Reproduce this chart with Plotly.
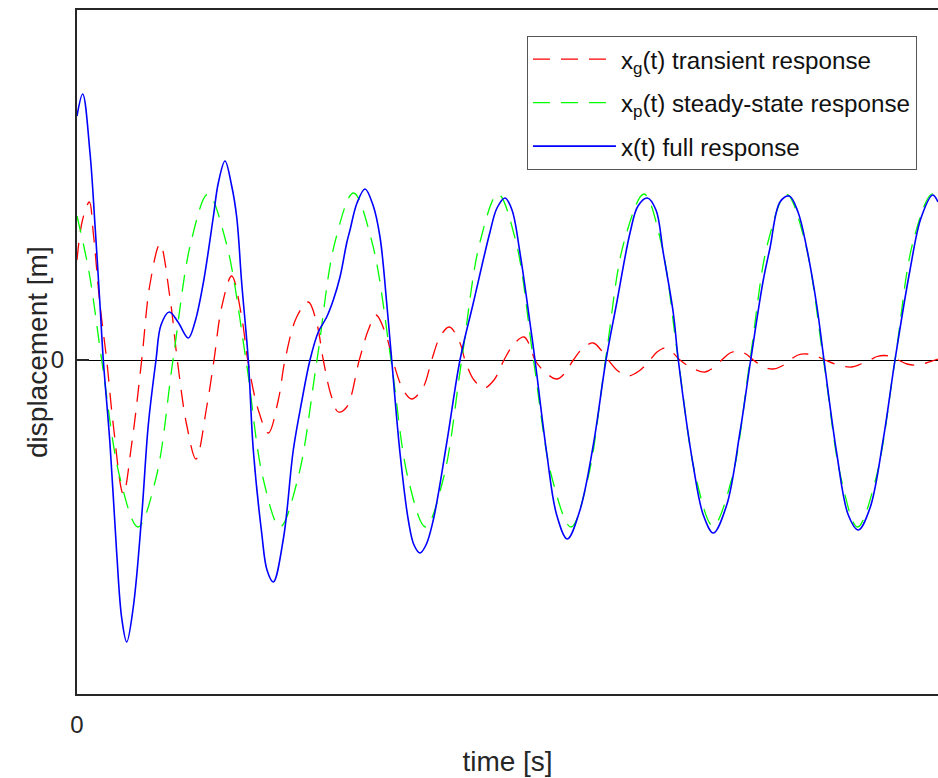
import plotly.graph_objects as go

# transient response x_g(t)
t_g = [0.000, 0.055, 0.123, 0.163, 0.230, 0.297, 0.363, 0.463, 0.547, 0.647,
       0.730, 0.830, 0.930, 1.003, 1.097, 1.190, 1.297, 1.370, 1.447, 1.547,
       1.647, 1.707, 1.813, 1.913, 2.013, 2.080, 2.197, 2.313, 2.397, 2.463,
       2.540, 2.613, 2.697, 2.823, 2.913, 2.990, 3.097, 3.157, 3.263, 3.347,
       3.463, 3.547, 3.630, 3.723, 3.830, 3.880, 3.970, 4.070, 4.170, 4.270,
       4.370, 4.470, 4.530, 4.580, 4.680, 4.797, 4.880, 4.963, 5.060, 5.163,
       5.240, 5.313, 5.410, 5.510, 5.620, 5.730, 5.800, 5.880, 5.950, 6.030,
       6.150, 6.280, 6.360, 6.447, 6.530, 6.613, 6.690, 6.763, 6.870, 6.963,
       7.050, 7.130, 7.210, 7.297, 7.390, 7.480, 7.610, 7.747, 7.840, 7.930,
       8.000, 8.080, 8.150, 8.213, 8.300, 8.397, 8.490, 8.580, 8.610]
x_g = [1.00, 1.40, 1.58, 1.27, 0.55, 0.00, -0.65, -1.34, -0.84, 0.00,
       0.76, 1.16, 0.62, 0.00, -0.65, -0.99, -0.47, 0.00, 0.53, 0.84,
       0.43, 0.00, -0.50, -0.73, -0.40, 0.00, 0.43, 0.58, 0.37, 0.00,
       -0.35, -0.52, -0.47, 0.00, 0.30, 0.45, 0.23, 0.00, -0.30, -0.39,
       -0.27, 0.00, 0.23, 0.33, 0.17, 0.00, -0.20, -0.28, -0.20, 0.00,
       0.16, 0.23, 0.14, 0.00, -0.12, -0.19, -0.13, 0.00, 0.12, 0.17,
       0.10, 0.00, -0.11, -0.16, -0.11, 0.00, 0.08, 0.12, 0.08, 0.00,
       -0.08, -0.12, -0.08, 0.00, 0.07, 0.09, 0.06, 0.00, -0.07, -0.09,
       -0.06, 0.00, 0.05, 0.06, 0.04, 0.00, -0.05, -0.07, -0.04, 0.00,
       0.035, 0.045, 0.03, 0.00, -0.04, -0.05, -0.03, 0.00, 0.01]

# steady-state response x_p(t)
t_p = [0.000, 0.120, 0.247, 0.430, 0.610, 0.790, 0.960, 1.140, 1.310, 1.490,
       1.690, 1.860, 2.030, 2.210, 2.400, 2.580, 2.765, 2.950, 3.140, 3.310,
       3.485, 3.665, 3.847, 4.030, 4.210, 4.390, 4.565, 4.750, 4.940, 5.110,
       5.285, 5.470, 5.670, 5.840, 6.013, 6.190, 6.360, 6.550, 6.730, 6.910,
       7.095, 7.280, 7.465, 7.640, 7.805, 7.990, 8.180, 8.360, 8.547, 8.610]
x_p = [1.44, 0.88, 0.00, -1.18, -1.67, -1.18, 0.00, 1.18, 1.66, 1.18,
       0.00, -1.18, -1.67, -1.18, 0.00, 1.18, 1.67, 1.18, 0.00, -1.18,
       -1.67, -1.18, 0.00, 1.18, 1.66, 1.18, 0.00, -1.18, -1.67, -1.18,
       0.00, 1.18, 1.66, 1.18, 0.00, -1.18, -1.66, -1.18, 0.00, 1.18,
       1.66, 1.18, 0.00, -1.18, -1.67, -1.18, 0.00, 1.18, 1.66, 1.62]

# full response x(t)
t_x = [0.000, 0.057, 0.130, 0.180, 0.230, 0.263, 0.330, 0.397, 0.447, 0.497,
       0.563, 0.647, 0.713, 0.790, 0.840, 0.923, 1.010, 1.113, 1.180, 1.263,
       1.363, 1.413, 1.480, 1.545, 1.597, 1.647, 1.713, 1.763, 1.847, 1.900,
       1.963, 2.065, 2.163, 2.250, 2.330, 2.413, 2.497, 2.563, 2.630, 2.697,
       2.730, 2.800, 2.880, 2.960, 3.030, 3.097, 3.147, 3.230, 3.313, 3.370,
       3.430, 3.490, 3.563, 3.697, 3.830, 3.963, 4.130, 4.200, 4.280, 4.350,
       4.430, 4.530, 4.580, 4.697, 4.797, 4.903, 5.030, 5.163, 5.290, 5.397,
       5.530, 5.610, 5.703, 5.790, 5.863, 5.963, 6.013, 6.163, 6.263, 6.363,
       6.497, 6.630, 6.737, 6.863, 6.930, 7.030, 7.123, 7.210, 7.297, 7.397,
       7.470, 7.597, 7.713, 7.813, 7.930, 8.063, 8.180, 8.330, 8.440, 8.557,
       8.610]
x_x = [2.44, 2.66, 2.07, 1.35, 0.55, 0.00, -0.84, -1.93, -2.58, -2.82,
       -2.47, -1.56, -0.65, 0.00, 0.35, 0.48, 0.38, 0.22, 0.38, 0.77,
       1.43, 1.77, 1.99, 1.75, 1.43, 0.77, 0.00, -0.90, -1.73, -2.10,
       -2.22, -1.78, -0.90, -0.40, 0.00, 0.28, 0.43, 0.60, 0.83, 1.17,
       1.30, 1.57, 1.71, 1.55, 1.23, 0.57, 0.00, -0.93, -1.60, -1.85,
       -1.93, -1.85, -1.60, -0.83, 0.00, 0.57, 1.28, 1.52, 1.62, 1.50,
       1.07, 0.37, 0.00, -0.93, -1.55, -1.79, -1.50, -0.85, 0.00, 0.57,
       1.27, 1.54, 1.62, 1.50, 1.07, 0.47, 0.00, -1.06, -1.55, -1.73,
       -1.45, -0.72, 0.00, 0.80, 1.12, 1.58, 1.64, 1.48, 1.12, 0.55,
       0.00, -0.93, -1.55, -1.70, -1.48, -0.79, 0.00, 0.90, 1.42, 1.65,
       1.58]

AXIS_COLOR = "#262626"
FONT = "Liberation Sans, Arial, sans-serif"
DASH = "17px,11px"

fig = go.Figure()
fig.add_trace(go.Scatter(
    x=t_g, y=x_g, mode="lines", name="x<sub>g</sub>(t) transient response",
    legendgroup="g",
    line=dict(color="#ff0000", width=1.3, dash=DASH, shape="spline", smoothing=1.0),
))
fig.add_trace(go.Scatter(
    x=t_p, y=x_p, mode="lines", name="x<sub>p</sub>(t) steady-state response",
    legendgroup="p",
    line=dict(color="#00ff00", width=1.3, dash=DASH, shape="spline", smoothing=1.0),
))
fig.add_trace(go.Scatter(
    x=t_x, y=x_x, mode="lines", name="x(t) full response",
    legendgroup="x",
    line=dict(color="#0000ff", width=1.6, shape="spline", smoothing=1.0),
))

fig.update_layout(
    width=938, height=778,
    margin=dict(l=77, r=0, t=10, b=84),
    plot_bgcolor="white", paper_bgcolor="white",
    font=dict(family=FONT, color=AXIS_COLOR),
    showlegend=True,
    legend=dict(
        x=0.5226, y=0.962, xanchor="left", yanchor="top",
        bgcolor="white", bordercolor="#555555", borderwidth=1,
        font=dict(size=24.2, color="#111111", family=FONT),
        tracegroupgap=9, itemwidth=83,
    ),
    annotations=[dict(
        text="displacement [m]", textangle=-90,
        xref="paper", yref="paper", x=-0.0465, y=0.5,
        xanchor="center", yanchor="middle", showarrow=False,
        font=dict(size=28, color=AXIS_COLOR, family=FONT),
    )],
)
fig.update_xaxes(
    range=[0, 8.61], showgrid=False, zeroline=False,
    showline=True, linecolor=AXIS_COLOR, linewidth=2, mirror=True,
    tickvals=[0], ticktext=["0"], ticks="inside", ticklen=12, tickwidth=2,
    tickcolor=AXIS_COLOR, tickfont=dict(size=24, color=AXIS_COLOR),
    ticklabelstandoff=8,
    title=dict(text="time [s]", font=dict(size=28, color=AXIS_COLOR), standoff=15),
)
fig.update_yaxes(
    range=[-3.34, 3.50], showgrid=False,
    zeroline=True, zerolinecolor="#000000", zerolinewidth=1,
    showline=True, linecolor=AXIS_COLOR, linewidth=2, mirror=False,
    tickvals=[0], ticktext=["0"], ticks="inside", ticklen=12, tickwidth=2,
    tickcolor=AXIS_COLOR, tickfont=dict(size=24, color=AXIS_COLOR),
    ticklabelstandoff=6,
)

fig.write_html("out.html")
